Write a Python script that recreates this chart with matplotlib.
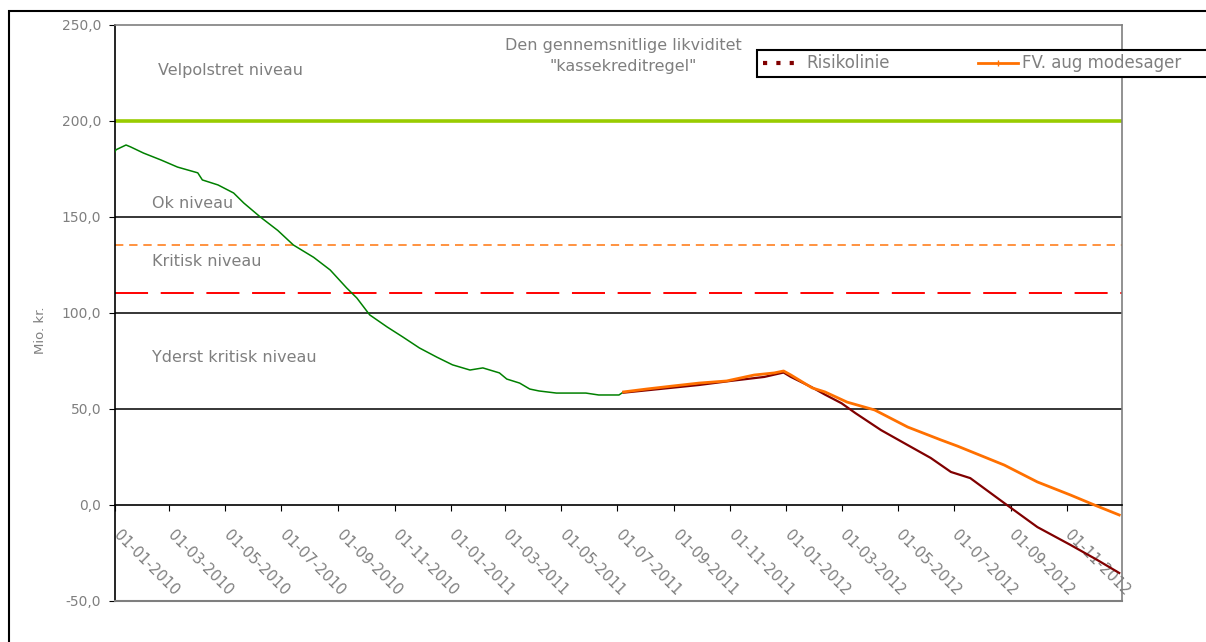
import matplotlib
matplotlib.use('Agg')
import matplotlib.pyplot as plt
import matplotlib.dates as mdates
import matplotlib.transforms as mtransforms
from matplotlib.lines import Line2D
from matplotlib.patches import Rectangle
import pandas as pd

# likviditet (mio. kr.)
green_dates = ['2010-01-01', '2010-01-02', '2010-01-13', '2010-01-18', '2010-02-01', '2010-02-20',
               '2010-03-10', '2010-04-01', '2010-04-06', '2010-04-23', '2010-05-10', '2010-05-21',
               '2010-06-08', '2010-06-27', '2010-07-14', '2010-08-05', '2010-08-23', '2010-09-10',
               '2010-09-21', '2010-10-05', '2010-10-24', '2010-11-10', '2010-11-28', '2010-12-17',
               '2011-01-03', '2011-01-22', '2011-02-05', '2011-02-23', '2011-03-03', '2011-03-17',
               '2011-03-28', '2011-04-07', '2011-04-26', '2011-05-28', '2011-06-11', '2011-07-03',
               '2011-07-08']
green_vals = [184.0, 185.0, 187.5, 186.5, 183.3, 179.7,
              176.0, 173.0, 169.3, 166.7, 162.5, 157.3,
              150.0, 143.0, 135.4, 129.0, 122.4, 113.0,
              107.8, 99.0, 92.7, 87.5, 81.8, 77.0,
              73.0, 70.3, 71.4, 68.8, 65.6, 63.5,
              60.4, 59.4, 58.3, 58.3, 57.3, 57.3,
              58.9]

fv_dates = ['2011-07-08', '2011-08-02', '2011-08-31', '2011-09-28', '2011-10-28', '2011-11-27',
            '2011-12-19', '2011-12-29', '2012-01-06', '2012-01-29', '2012-02-12', '2012-03-07',
            '2012-04-06', '2012-05-12', '2012-06-17', '2012-07-05', '2012-08-25', '2012-09-30',
            '2012-11-05', '2012-12-01', '2012-12-28']
fv_vals = [58.9, 60.4, 62.0, 63.5, 64.6, 67.7,
           68.8, 69.8, 67.7, 61.0, 58.9, 53.6,
           49.5, 40.6, 33.9, 30.7, 20.8, 12.0,
           5.2, 0.0, -5.2]

risk_dates = ['2011-07-08', '2011-09-28', '2011-11-01', '2011-12-08', '2011-12-29', '2012-01-06',
              '2012-01-28', '2012-02-12', '2012-03-01', '2012-03-16', '2012-04-13', '2012-05-12',
              '2012-06-06', '2012-06-28', '2012-07-19', '2012-08-25', '2012-09-30', '2012-11-05',
              '2012-12-04', '2012-12-28']
risk_vals = [58.5, 62.5, 64.6, 66.7, 69.0, 66.7,
             61.5, 57.5, 53.0, 47.9, 39.0, 31.2,
             24.5, 17.2, 14.0, 1.0, -11.5, -20.8,
             -28.6, -35.4]

level_lines = [50, 100, 150]
velpolstret = 200
ok_line = 135.5
kritisk_line = 110.5

grey = '#7f7f7f'
W, H = 1206, 642

def px(x, y):
    return x / W, 1 - y / H

fig = plt.figure(figsize=(W / 100, H / 100), dpi=100)
ax = fig.add_axes([115 / W, 1 - 601 / H, (1122 - 115) / W, (601 - 25) / H])

for v in level_lines:
    ax.axhline(v, color='black', lw=1.1, zorder=1)
ax.axhline(velpolstret, color='#99cc00', lw=2.6, zorder=1)
ax.axhline(ok_line, color='#ff8020', lw=1.2, linestyle=(0, (5, 3.5)), zorder=1)
ax.axhline(kritisk_line, color='#ff0000', lw=1.4, linestyle=(0, (17, 6.5)), zorder=1)

ax.plot(pd.to_datetime(green_dates), green_vals, color='#008000', lw=1.1, zorder=3)
ax.plot(pd.to_datetime(risk_dates), risk_vals, color='#800000', lw=1.6, zorder=3)
ax.plot(pd.to_datetime(fv_dates), fv_vals, color='#ff7000', lw=2.0, zorder=4)

ax.set_xlim(pd.Timestamp('2010-01-01'), pd.Timestamp('2012-12-31'))
ax.set_ylim(-50, 250)
ax.set_yticks(range(-50, 251, 50))
ax.set_yticklabels([f'{v:.1f}'.replace('.', ',') for v in range(-50, 251, 50)])

ax.xaxis.set_major_locator(mdates.MonthLocator(bymonth=[1, 3, 5, 7, 9, 11]))
ax.xaxis.set_major_formatter(mdates.DateFormatter('%d-%m-%Y'))
ax.spines['bottom'].set_position(('data', 0))
ax.spines['bottom'].set_color('black')
ax.spines['left'].set_color('black')
ax.spines['top'].set_color(grey)
ax.spines['right'].set_color(grey)
for s in ax.spines.values():
    s.set_linewidth(1.2)
ax.axhline(-50, color=grey, lw=1.5, clip_on=False, zorder=5)

ax.tick_params(axis='y', direction='out', length=4, color='black', labelcolor=grey, labelsize=10, pad=6)
ax.tick_params(axis='x', direction='out', length=4, color='black', labelcolor=grey, labelsize=10.5, pad=12)
shift = mtransforms.ScaledTranslation(6 / 100, 0, fig.dpi_scale_trans)
for lab in ax.get_xticklabels():
    lab.set_rotation(-45)
    lab.set_ha('left')
    lab.set_va('top')
    lab.set_rotation_mode('anchor')
    lab.set_transform(lab.get_transform() + shift)

txt = dict(color=grey, fontsize=11.5, va='center')
fig.text(*px(158, 70), 'Velpolstret niveau', **txt)
fig.text(*px(152, 203), 'Ok niveau', **txt)
fig.text(*px(152, 262), 'Kritisk niveau', **txt)
fig.text(*px(152, 358), 'Yderst kritisk niveau', **txt)
fig.text(*px(623, 56), 'Den gennemsnitlige likviditet\n"kassekreditregel"', color=grey,
         fontsize=11.5, ha='center', va='center', linespacing=1.5)
fig.text(*px(40, 330), 'Mio. kr.', color=grey, fontsize=9.5, rotation=90, ha='center', va='center')

# legend box runs off the right edge, as in the original
fig.add_artist(Rectangle(px(757, 77), 500 / W, 27 / H, transform=fig.transFigure,
                         fill=True, facecolor='white', edgecolor='black', lw=1.5, zorder=6))
handles = [Line2D([], [], color='#800000', lw=3, linestyle=(0, (1, 2.2))),
           Line2D([], [], color='#ff7000', lw=2, marker='|', markersize=4)]
leg = fig.legend(handles, ['Risikolinie', 'FV. aug modesager'], loc='center left',
                 bbox_to_anchor=px(759, 63.5), ncol=2, frameon=False,
                 fontsize=12, handlelength=2.4, columnspacing=5.3,
                 borderpad=0.25, handletextpad=0.2, borderaxespad=0)
leg.set_zorder(7)
for t in leg.get_texts():
    t.set_color(grey)

fig.add_artist(Rectangle(px(9, 700), 1.5, (700 - 11) / H, transform=fig.transFigure,
                         fill=False, edgecolor='black', lw=1.5))

fig.savefig('out.png', dpi=100)
